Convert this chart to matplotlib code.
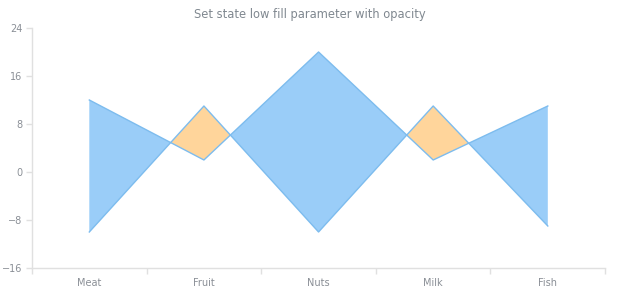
import matplotlib.pyplot as plt
import numpy as np

# Chart data
categories = ['Meat', 'Fruit', 'Nuts', 'Milk', 'Fish']
high = [12, 2, 20, 2, 11]
low = [-10, 11, -10, 11, -9]
y_ticks = [-16, -8, 0, 8, 16, 24]

x = np.arange(len(categories))
hi = np.array(high)
lo = np.array(low)

fig = plt.figure(figsize=(6.2, 3.0), dpi=100)
ax = fig.add_axes([0.0516, 0.1067, 0.9244, 0.8])

# Fill where high > low (blue) and where low > high (orange)
ax.fill_between(x, hi, lo, where=hi >= lo, interpolate=True,
                color='#9acdf8', linewidth=0)
ax.fill_between(x, hi, lo, where=hi < lo, interpolate=True,
                color='#ffd59b', linewidth=0)
ax.plot(x, hi, color='#7dbcee', linewidth=1)
ax.plot(x, lo, color='#7dbcee', linewidth=1)

ax.set_xlim(-0.5, len(categories) - 0.5)
ax.set_ylim(-16, 24)
ax.set_yticks(y_ticks)
ax.set_xticks(x)
ax.set_xticklabels(categories)
ax.set_xticks(np.arange(len(categories) + 1) - 0.5, minor=True)

grey = '#e0e0e0'
for s in ['top', 'right']:
    ax.spines[s].set_visible(False)
for s in ['left', 'bottom']:
    ax.spines[s].set_color(grey)
    ax.spines[s].set_linewidth(1)

ax.tick_params(axis='y', colors=grey, labelcolor='#8a8f96', labelsize=7,
               length=4, width=1, pad=3)
ax.tick_params(axis='x', which='major', length=0, labelcolor='#8a8f96',
               labelsize=7, pad=7)
ax.tick_params(axis='x', which='minor', length=4, width=1, colors=grey)

fig.text(0.5, 0.952, 'Set state low fill parameter with opacity',
         ha='center', va='center', fontsize=8.3, color='#808890')

fig.savefig('out.png', dpi=100)
